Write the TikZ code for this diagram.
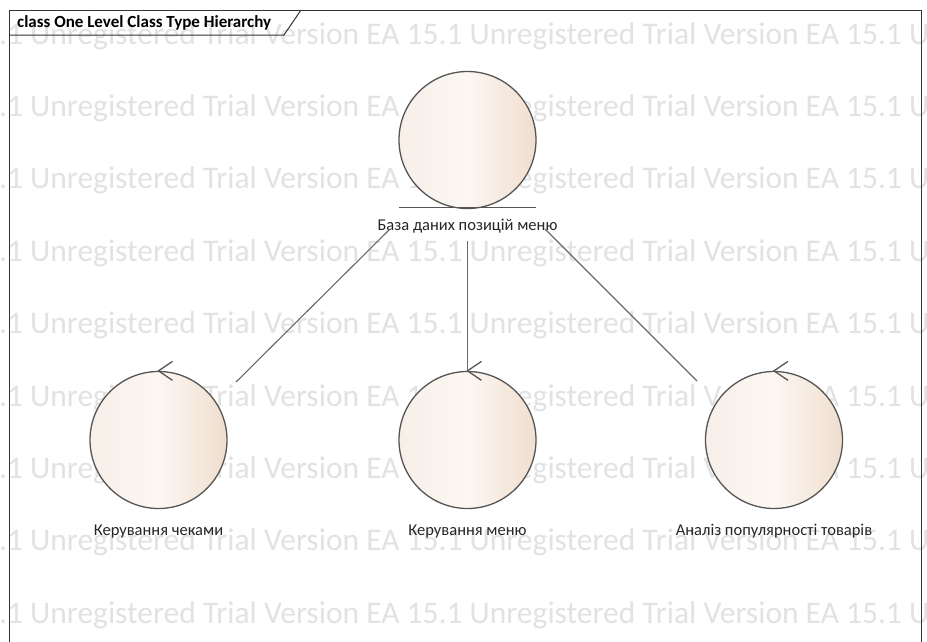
\documentclass[tikz,border=0pt]{standalone}
\usepackage{fontspec}
\setmainfont{Carlito}
\definecolor{wm}{RGB}{226,226,226}
\definecolor{shL}{RGB}{247,239,232}
\definecolor{shM}{RGB}{252,247,243}
\definecolor{shR}{RGB}{240,222,206}
\definecolor{rim}{RGB}{85,85,85}
\definecolor{conn}{RGB}{105,105,105}
\tikzset{
  wmark/.style={text=wm, font=\fontsize{31.5}{31.5}\selectfont, anchor=base west, inner sep=0pt},
  robj/.style={circle, draw=rim, line width=1.3pt, minimum size=137pt, inner sep=0pt,
    left color=shL, right color=shR, middle color=shM},
  lbl/.style={font=\fontsize{16.5}{16.5}\selectfont, text=black!85, inner sep=0pt, anchor=base},
  assoc/.style={draw=conn, line width=1.1pt},
  ctrlarrow/.style={draw=rim, line width=1.3pt},
  frame/.style={draw=black!80, line width=1pt}
}
\begin{document}
\begin{tikzpicture}[x=1pt,y=-1pt]
\useasboundingbox (0,0) rectangle (927,641);
\fill[white] (0,0) rectangle (927,641);
% watermark
\foreach \yy in {44,116.4,188.8,261.2,333.6,406,478.4,550.8,623.2}{
  \node[wmark] at (-33,\yy) {15.1 Unregistered Trial Version EA 15.1 Unregistered Trial Version EA 15.1 Unregistered};
}
% frame
\draw[frame] (9.5,645) -- (9.5,10) -- (921,10) -- (921,645);
\draw[frame] (9.5,35) -- (284,35) -- (301,10);
\node[font=\bfseries\fontsize{17}{17}\selectfont, anchor=base west, inner sep=0pt] (title) at (17,27) {class One Level Class Type Hierarchy};
% entity
\node[robj] (ent) at (467.5,140) {};
\draw[draw=rim, line width=1.3pt] (399,207.5) -- (536,207.5);
\node[lbl] (entl) at (467.5,230) {База даних позицій меню};
% controls
\node[robj] (c1) at (158.5,440) {};
\node[robj] (c2) at (467.5,440) {};
\node[robj] (c3) at (774,440) {};
\foreach \c in {c1,c2,c3}{
  \draw[ctrlarrow] ([shift={(14,-9.5)}]\c.north) -- (\c.north) -- ([shift={(14,9.5)}]\c.north);
}
\node[lbl] (c1l) at (158.5,535) {Керування чеками};
\node[lbl] (c2l) at (467.5,535) {Керування меню};
\node[lbl] (c3l) at (774,535) {Аналіз популярності товарів};
% connectors
\coordinate (a1) at (390,229);
\coordinate (b1) at (236,382);
\coordinate (a2) at (467.5,241);
\coordinate (a3) at (545,229);
\coordinate (b3) at (697,381);
\draw[assoc] (a1) -- (b1);
\draw[assoc] (a2) -- (c2.north);
\draw[assoc] (a3) -- (b3);
\end{tikzpicture}
\end{document}
